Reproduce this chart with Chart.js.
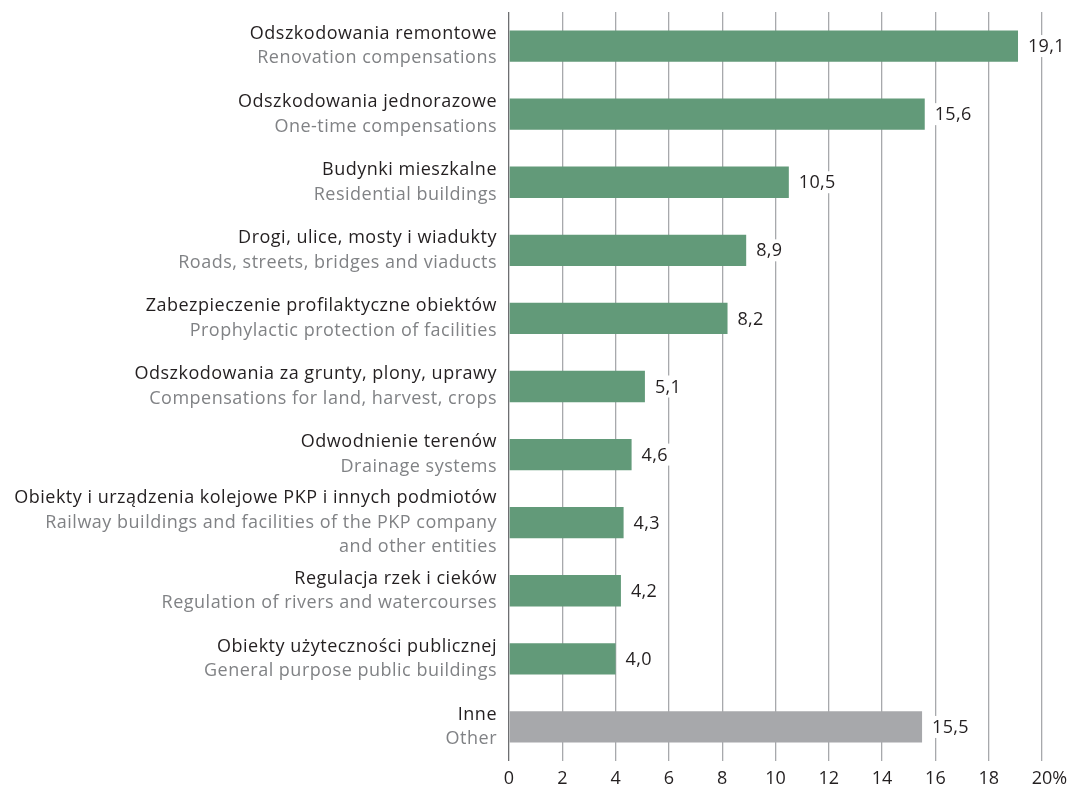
<!DOCTYPE html>
<html><head><meta charset="utf-8">
<script src="https://cdn.jsdelivr.net/npm/chart.js@4"></script>
<style>html,body{margin:0;padding:0;background:#fff}#wrap{width:1072px;height:787px;position:relative}</style>
</head><body><div id="wrap"><canvas id="c"></canvas></div>
<script>
const categoriesPl = [
  'Odszkodowania remontowe',
  'Odszkodowania jednorazowe',
  'Budynki mieszkalne',
  'Drogi, ulice, mosty i wiadukty',
  'Zabezpieczenie profilaktyczne obiektów',
  'Odszkodowania za grunty, plony, uprawy',
  'Odwodnienie terenów',
  'Obiekty i urządzenia kolejowe PKP i innych podmiotów',
  'Regulacja rzek i cieków',
  'Obiekty użyteczności publicznej',
  'Inne'
];
const categoriesEn = [
  ['Renovation compensations'],
  ['One-time compensations'],
  ['Residential buildings'],
  ['Roads, streets, bridges and viaducts'],
  ['Prophylactic protection of facilities'],
  ['Compensations for land, harvest, crops'],
  ['Drainage systems'],
  ['Railway buildings and facilities of the PKP company', 'and other entities'],
  ['Regulation of rivers and watercourses'],
  ['General purpose public buildings'],
  ['Other']
];
const values = [19.1, 15.6, 10.5, 8.9, 8.2, 5.1, 4.6, 4.3, 4.2, 4.0, 15.5];
const tickLabels = ['0','2','4','6','8','10','12','14','16','18','20'];
const tickSuffix = '%';

const FONT = "'Open Sans', sans-serif";
const FS = 18;
const LS = '0.5px';
const GREEN = '#629a79';
const GREY = '#a7a8ab';
const DARK = '#231f20';
const LIGHT = '#808285';

const labelPlugin = {
  id: 'labels',
  afterDatasetsDraw(chart) {
    const ctx = chart.ctx;
    const ys = chart.scales.y, xs = chart.scales.x;
    ctx.save();
    ctx.font = FS + 'px ' + FONT;
    ctx.textBaseline = 'middle';
    // value labels
    ctx.letterSpacing = '0.3px';
    values.forEach((v, i) => {
      const y = ys.getPixelForValue(i);
      const x = xs.getPixelForValue(v) + 10;
      const t = v.toFixed(1).replace('.', ',');
      const w = ctx.measureText(t).width;
      ctx.fillStyle = '#fff';
      ctx.fillRect(x - 3, y - 11, w + 6, 22);
      ctx.fillStyle = DARK;
      ctx.textAlign = 'left';
      ctx.fillText(t, x, y + 1);
    });
    // x tick labels (numeral centred on grid line, % hanging to the right)
    ctx.letterSpacing = '0px';
    const ty = chart.chartArea.bottom + 18;
    xs.ticks.forEach((tk, i) => {
      const x = xs.getPixelForValue(tk.value);
      const t = tickLabels[i];
      const w = ctx.measureText(t).width;
      ctx.fillStyle = DARK;
      ctx.textAlign = 'left';
      ctx.fillText(t + (i === xs.ticks.length - 1 ? tickSuffix : ''), x - w / 2, ty);
    });
    // category labels
    ctx.letterSpacing = LS;
    ctx.textAlign = 'right';
    const gap = 24.5;
    categoriesPl.forEach((pl, i) => {
      const y = ys.getPixelForValue(i);
      const lines = [pl].concat(categoriesEn[i]);
      const y0 = y - (lines.length - 1) * gap / 2;
      lines.forEach((ln, k) => {
        ctx.fillStyle = k === 0 ? DARK : LIGHT;
        ctx.fillText(ln, 497, y0 + k * gap);
      });
    });
    ctx.restore();
  }
};

new Chart(document.getElementById('c'), {
  type: 'bar',
  data: {
    labels: categoriesPl,
    datasets: [{
      data: values,
      backgroundColor: values.map((v, i) => i === values.length - 1 ? GREY : GREEN),
      borderWidth: 0,
      categoryPercentage: 1,
      barPercentage: 0.46
    }]
  },
  options: {
    indexAxis: 'y',
    responsive: true,
    maintainAspectRatio: false,
    animation: false,
    layout: { padding: { top: 12, right: 30, left: 0, bottom: 0 } },
    plugins: { legend: { display: false }, tooltip: { enabled: false }, title: { display: false } },
    scales: {
      x: {
        min: 0, max: 20,
        position: 'bottom',
        ticks: { stepSize: 2, display: false },
        grid: {
          color: c => c.tick && c.tick.value === 0 ? '#6d6e71' : '#a7a9ac',
          lineWidth: 1.3,
          drawTicks: false
        },
        border: { display: false },
        afterFit: s => { s.height = 26; }
      },
      y: {
        grid: { display: false },
        border: { display: false },
        ticks: { display: false },
        afterFit: s => { s.width = 509; }
      }
    }
  },
  plugins: [labelPlugin]
});
</script>
</body></html>
